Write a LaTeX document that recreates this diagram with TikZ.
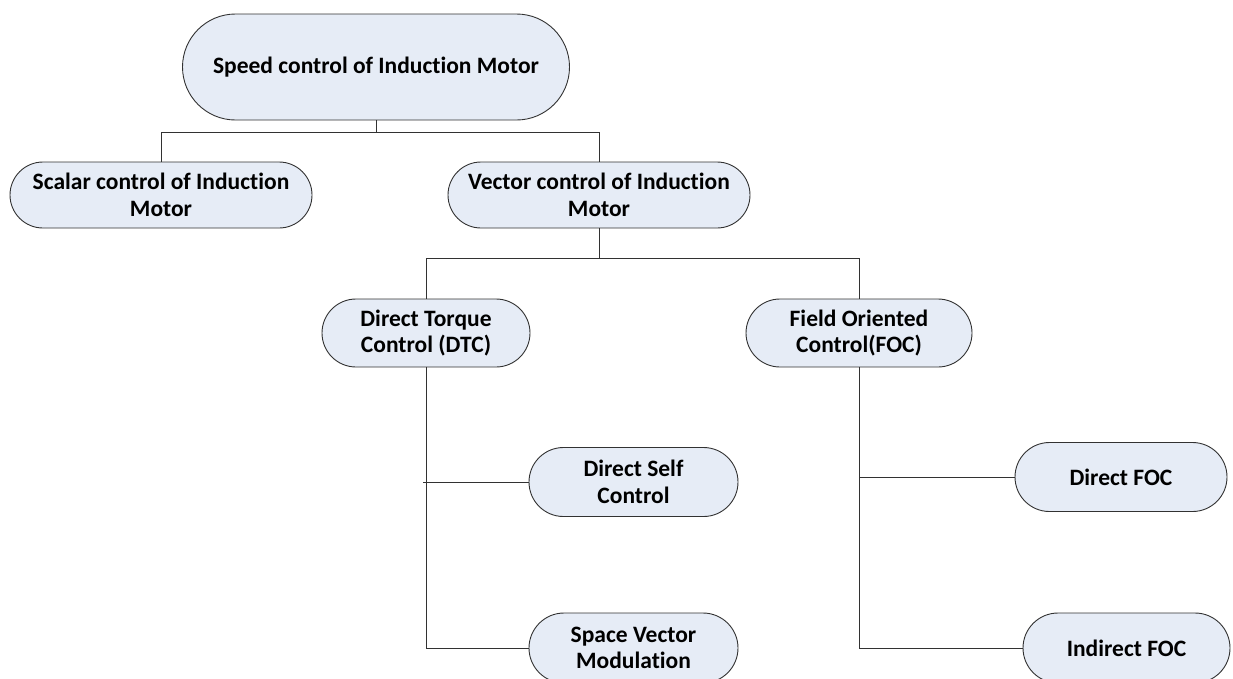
\documentclass[tikz,border=0pt]{standalone}
\usepackage{fontspec}
\setmainfont{Carlito}[RawFeature=-liga]
\definecolor{pillfill}{RGB}{230,236,246}
\definecolor{edgegray}{RGB}{50,50,50}
\begin{document}
\begin{tikzpicture}[x=1pt,y=-1pt]
\useasboundingbox (0,0) rectangle (1233,678);
\tikzset{
  pill/.style={draw=edgegray, fill=pillfill, line width=0.9pt, align=center,
    font=\bfseries\fontsize{23.5}{26.5}\selectfont, inner sep=0pt},
  wire/.style={draw=edgegray, line width=0.9pt}
}
\node[pill, minimum width=387pt, minimum height=106pt, rounded corners=53pt] (top) at (376,67) {Speed control of Induction Motor};
\node[pill, minimum width=302pt, minimum height=66pt, rounded corners=33pt] (scalar) at (161,195) {Scalar control of Induction\\Motor};
\node[pill, minimum width=302pt, minimum height=66pt, rounded corners=33pt] (vector) at (599,195) {Vector control of Induction\\Motor};
\node[pill, minimum width=208pt, minimum height=68pt, rounded corners=34pt] (dtc) at (426,333) {Direct Torque\\Control (DTC)};
\node[pill, minimum width=226pt, minimum height=68pt, rounded corners=34pt] (foc) at (859,333) {Field Oriented\\Control(FOC)};
\node[pill, minimum width=209pt, minimum height=69pt, rounded corners=34.5pt] (dsc) at (633.5,482) {Direct Self\\Control};
\node[pill, minimum width=209pt, minimum height=70pt, rounded corners=35pt] (svm) at (633.5,648) {Space Vector\\Modulation};
\node[pill, minimum width=212pt, minimum height=69pt, rounded corners=34.5pt] (dfoc) at (1121,477) {Direct FOC};
\node[pill, minimum width=207pt, minimum height=70pt, rounded corners=35pt] (ifoc) at (1126.5,648) {Indirect FOC};

\coordinate (j1) at (376,132);
\coordinate (j2) at (599,258);
\coordinate (j3) at (426,648);
\coordinate (j4) at (423,482);
\coordinate (j5) at (859,648);
\coordinate (j6) at (859,477);

\draw[wire] (top.south) -- (j1) -| (scalar.north);
\draw[wire] (j1) -| (vector.north);
\draw[wire] (vector.south) -- (j2) -| (dtc.north);
\draw[wire] (j2) -| (foc.north);
\draw[wire] (dtc.south) -- (j3) -- (svm.west);
\draw[wire] (j4) -- (dsc.west);
\draw[wire] (foc.south) -- (j5) -- (ifoc.west);
\draw[wire] (j6) -- (dfoc.west);
\end{tikzpicture}
\end{document}
